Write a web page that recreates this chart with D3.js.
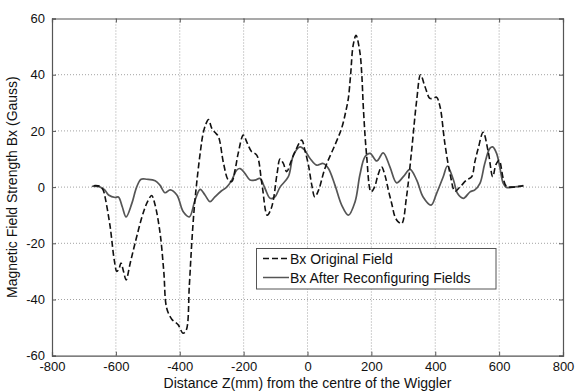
<!DOCTYPE html>
<html>
<head>
<meta charset="utf-8">
<script src="https://cdn.jsdelivr.net/npm/d3@7"></script>
<style>
  body { margin: 0; background: #fff; }
  svg { display: block; font-family: "Liberation Sans", Arial, sans-serif; }
</style>
</head>
<body>
<div id="chart"></div>
<script>
// values
var xTicks = [-800, -600, -400, -200, 0, 200, 400, 600, 800]
var yTicks = [-60, -40, -20, 0, 20, 40, 60]

var originalZ = [-670, -650, -640, -634, -618, -605, -597, -590, -584, -576, -568, -555, -540, -514, -500, -488, -478, -462, -450, -441, -425, -405, -390, -380, -370, -363, -355, -347, -335, -327, -318, -310, -300, -290, -279, -263, -248, -237, -227, -217, -201, -190, -175, -159, -143, -126, -115, -107, -95, -86, -76, -65, -52, -39, -18, -8, 3, 13, 23, 35, 55, 86, 107, 120, 128, 135, 143, 152, 164, 170, 175, 185, 199, 210, 220, 232, 243, 253, 264, 274, 285, 295, 310, 326, 342, 354, 368, 383, 394, 404, 415, 430, 446, 462, 477, 498, 514, 524, 535, 550, 566, 580, 590, 600, 613, 623, 644, 676]
var originalBx = [0.5, 0.3, -1, -3.5, -14, -26, -30, -29, -27, -30, -33, -27, -20, -9, -5, -3, -6, -16, -30, -43, -47, -49, -52, -51, -35, -21, -8, 1.4, 13, 19, 22.5, 24, 21, 19.5, 18, 8.5, 2.5, 2, 6, 12, 18.5, 16, 12.6, 11.4, 1.4, -10, -8, -4.6, 5, 10, 8.5, 5.5, 9, 12.6, 16.7, 13, 7.8, 1, -3.5, -1, 6.8, 15, 21, 27, 31.7, 40, 50.5, 54, 48, 40, 28, 11.4, -1.7, 0, 4, 7.2, 4, -1, -6, -10.6, -12.5, -13, -3.5, 13, 31, 40, 35.7, 31.6, 31.6, 32, 28.6, 15.6, 4.9, -1.5, 0, 2.5, 3.7, 9, 14, 19.5, 12.5, 3.7, 8, 9.5, 3, 0.3, 0, 0.5]

var afterZ = [-675, -649, -635, -623, -602, -592, -580, -568, -550, -535, -521, -503, -477, -462, -446, -430, -409, -389, -370, -352, -336, -321, -305, -290, -269, -253, -237, -222, -211, -196, -180, -164, -149, -133, -117, -102, -86, -60, -44, -23, -8, 8, 29, 49, 65, 86, 107, 128, 149, 164, 180, 196, 217, 237, 258, 279, 300, 321, 342, 362, 387, 404, 425, 438, 457, 470, 488, 509, 524, 540, 555, 571, 580, 592, 602, 613, 623, 644, 676]
var afterBx = [0.3, 0, -1, -2.8, -3.7, -3.5, -7, -10.6, -5.8, 0, 2.8, 2.8, 2.3, 0.7, -2, -1, -2.8, -8.8, -10.6, -4.6, -0.8, -2.8, -5.2, -3.5, -1.3, 0, 2.5, 6, 6.6, 4.9, 2.5, 2.5, 3.1, -0.5, -4, -3.5, 0, 3.7, 11.4, 14.3, 13, 10.2, 7.8, 8.4, 6.7, 0.7, -6.4, -10, -5.2, 4.3, 10.8, 12, 9.3, 12.2, 7.2, 1.5, 3.7, 6.3, 2.5, -3.5, -6.4, -2.3, 3.7, 7.5, 2.5, -2.3, -4, -1.7, -1, 1.3, 8.4, 13.8, 14.3, 12, 7.2, 1.3, -0.1, 0, 0.5]

var seriesNames = ['Bx Original Field', 'Bx After Reconfiguring Fields']

var width = 576, height = 391
var plotLeft = 52, plotRight = 563, plotTop = 18.5, plotBottom = 355.7

var svg = d3.select('#chart').append('svg')
  .attr('width', width)
  .attr('height', height)

var x = d3.scaleLinear().domain([-800, 800]).range([plotLeft, plotRight])
var y = d3.scaleLinear().domain([-60, 60]).range([plotBottom, plotTop])

// plain hyphen minus like the original, not d3's unicode minus
var plainNum = function(d) { return String(d) }

// dotted grid
var grid = svg.append('g').attr('class', 'grid')
grid.selectAll('line.vx')
  .data(xTicks.slice(1, -1))
  .enter().append('line')
    .attr('class', 'vx')
    .attr('x1', d => x(d)).attr('x2', d => x(d))
    .attr('y1', plotTop).attr('y2', plotBottom)
grid.selectAll('line.hy')
  .data(yTicks.slice(1, -1))
  .enter().append('line')
    .attr('class', 'hy')
    .attr('x1', plotLeft).attr('x2', plotRight)
    .attr('y1', d => y(d)).attr('y2', d => y(d))
grid.selectAll('line')
  .style('stroke', '#8a8a8a')
  .style('stroke-width', 0.8)
  .style('stroke-dasharray', '1,2')

// axes, ticks pointing inwards like the original
svg.append('g')
  .attr('transform', 'translate(0,' + plotBottom + ')')
  .call(d3.axisBottom(x).tickValues(xTicks).tickSize(-4).tickPadding(6).tickFormat(plainNum))
svg.append('g')
  .attr('transform', 'translate(0,' + plotTop + ')')
  .call(d3.axisTop(x).tickValues(xTicks).tickSize(-4).tickFormat(''))
svg.append('g')
  .attr('transform', 'translate(' + plotLeft + ',0)')
  .call(d3.axisLeft(y).tickValues(yTicks).tickSize(-4).tickPadding(7).tickFormat(plainNum))
svg.append('g')
  .attr('transform', 'translate(' + plotRight + ',0)')
  .call(d3.axisRight(y).tickValues(yTicks).tickSize(-4).tickFormat(''))

svg.selectAll('.domain').style('stroke', '#555').style('stroke-width', 1.2)
svg.selectAll('.tick line').style('stroke', '#555')
svg.selectAll('.tick text')
  .style('font-size', '13px')
  .style('fill', '#111')
  .style('font-family', '"Liberation Sans", Arial, sans-serif')

// the two field curves
var line = d3.line()
  .x(d => x(d[0]))
  .y(d => y(d[1]))
  .curve(d3.curveCatmullRom.alpha(0.5))

svg.append('path')
  .datum(d3.zip(afterZ, afterBx))
  .attr('d', line)
  .style('fill', 'none')
  .style('stroke', '#555')
  .style('stroke-width', 1.7)

svg.append('path')
  .datum(d3.zip(originalZ, originalBx))
  .attr('d', line)
  .style('fill', 'none')
  .style('stroke', '#111')
  .style('stroke-width', 1.6)
  .style('stroke-dasharray', '6,3')

// legend
var legend = svg.append('g').attr('class', 'legend')
legend.append('rect')
  .attr('x', 256.5).attr('y', 248.5)
  .attr('width', 239.5).attr('height', 40.5)
  .style('fill', 'white')
  .style('stroke', '#555')
  .style('stroke-width', 1)

var legendStyles = [
  {stroke: '#111', dash: '6,3'},
  {stroke: '#555', dash: null}
]
for (var i = 0; i < seriesNames.length; i++) {
  var ly = 258.5 + i * 19
  legend.append('line')
    .attr('x1', 263).attr('x2', 289)
    .attr('y1', ly).attr('y2', ly)
    .style('stroke', legendStyles[i].stroke)
    .style('stroke-width', 1.5)
    .style('stroke-dasharray', legendStyles[i].dash)
  legend.append('text')
    .attr('x', 290).attr('y', ly + 5)
    .text(seriesNames[i])
    .style('font-size', '14px')
    .style('fill', '#111')
}

// axis titles
svg.append('text')
  .attr('x', (plotLeft + plotRight) / 2).attr('y', 388)
  .attr('text-anchor', 'middle')
  .style('font-size', '14px')
  .style('fill', '#111')
  .text('Distance Z(mm) from the centre of the Wiggler')

svg.append('text')
  .attr('transform', 'translate(17,' + (plotTop + plotBottom) / 2 + ') rotate(-90)')
  .attr('text-anchor', 'middle')
  .style('font-size', '14px')
  .style('fill', '#111')
  .text('Magnetic Field Strength Bx (Gauss)')
</script>
</body>
</html>
